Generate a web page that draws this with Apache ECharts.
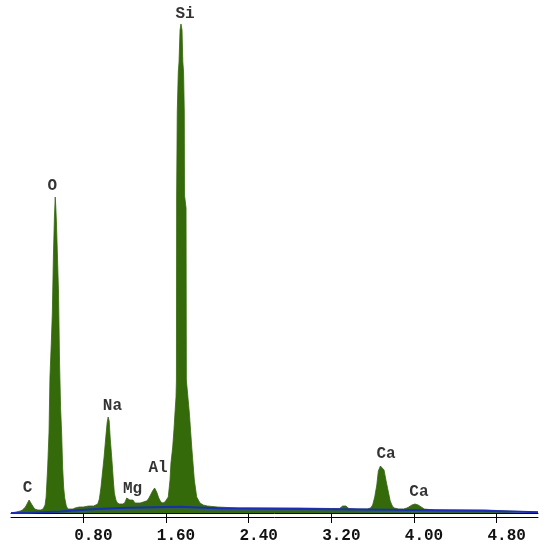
<!DOCTYPE html>
<html>
<head>
<meta charset="utf-8">
<script src="https://cdn.jsdelivr.net/npm/echarts@6/dist/echarts.min.js"></script>
<style>html,body{margin:0;padding:0;background:#fff}#c{width:550px;height:550px}</style>
</head>
<body>
<div id="c"></div>
<script>
// Spectrum: energy (keV) and counts
var energies = [0.10,0.15,0.19,0.21,0.24,0.26,0.275,0.29,0.31,0.33,0.36,0.39,0.41,0.43,0.44,0.455,0.468,0.477,0.49,0.50,0.51,0.52,0.528,0.534,0.54,0.55,0.56,0.57,0.58,0.59,0.60,0.61,0.62,0.635,0.65,0.70,0.72,0.76,0.80,0.85,0.90,0.94,0.955,0.97,0.985,1.00,1.015,1.03,1.04,1.05,1.06,1.07,1.08,1.09,1.10,1.115,1.13,1.15,1.18,1.20,1.21,1.22,1.235,1.25,1.265,1.28,1.30,1.32,1.35,1.38,1.41,1.43,1.45,1.47,1.49,1.50,1.51,1.53,1.55,1.57,1.59,1.60,1.622,1.639,1.648,1.665,1.677,1.687,1.697,1.701,1.703,1.709,1.719,1.726,1.736,1.745,1.755,1.763,1.770,1.777,1.779,1.794,1.797,1.800,1.826,1.849,1.874,1.897,1.929,1.96,2.0,2.1,2.3,2.6,2.9,3.2,3.28,3.31,3.34,3.37,3.45,3.55,3.58,3.60,3.62,3.64,3.655,3.675,3.69,3.71,3.73,3.75,3.77,3.79,3.81,3.85,3.90,3.93,3.95,3.98,4.01,4.04,4.07,4.10,4.2,4.5,4.7,4.9,5.2];
var counts = [0,4,8,12,24,40,52,48,28,16,12,12,16,32,64,184,324,544,680,800,1020,1180,1264,1220,1160,1020,880,600,420,320,180,100,60,28,16,16,20,24,24,28,28,36,56,100,160,220,292,360,384,368,300,248,192,132,80,52,40,36,36,40,48,60,52,52,60,52,40,40,40,44,48,56,72,88,100,96,84,60,44,40,44,48,64,132,200,264,332,400,464,532,1272,1604,1764,1804,1932,1956,1932,1804,1764,1604,1272,1220,532,532,400,264,132,64,40,32,28,24,20,20,20,18,18,28,28,18,16,16,20,32,64,112,168,188,192,172,128,88,48,28,20,16,16,20,24,32,36,32,24,16,12,12,12,8,4];

// Background (continuum fit) steps
var bgEnergies = [0.10,0.255,0.574,0.70,0.93,1.22,1.735,2.10,3.525,4.66,5.2];
var bgCounts = [0,6,10,16,21,25,19,14,9,3,3];

// Element labels
var labelNames = ['C','O','Na','Mg','Al','Si','Ca','Ca'];
var labelEnergies = [0.26,0.50,1.082,1.276,1.523,1.784,3.729,4.048];
var labelCounts = [100,1308,428,96,182,1996,236,84];

// Tick labels
var tickValues = [0.8,1.6,2.4,3.2,4.0,4.8];

var green = '#346a0a';
var fontFam = '"Liberation Mono", "DejaVu Sans Mono", monospace';

var spec = energies.map(function(e,i){return [e, counts[i]];});
var bg = bgEnergies.map(function(e,i){return [e, bgCounts[i]];});
var lbl = labelEnergies.map(function(e,i){return [e, labelCounts[i], labelNames[i]];});

var chart = echarts.init(document.getElementById('c'), null, {renderer:'canvas'});
chart.setOption({
  animation:false,
  backgroundColor:'#fff',
  grid:{left:11,right:12,top:13,bottom:37,containLabel:false},
  xAxis:[{
    type:'value', min:0.1, max:5.2,
    axisLine:{show:true,onZero:false,lineStyle:{color:'#000',width:1}},
    axisTick:{show:true,inside:false,length:10,customValues:tickValues,lineStyle:{color:'#000',width:1}},
    axisLabel:{show:true,customValues:tickValues,margin:15,color:'#111',fontFamily:fontFam,fontWeight:'bold',fontSize:16,
      padding:[0,0,0,20],
      formatter:function(v){return v.toFixed(2);}},
    splitLine:{show:false}
  },{
    type:'value', min:0.1, max:5.2, position:'bottom', offset:4,
    axisLine:{show:true,onZero:false,lineStyle:{color:'#000',width:1}},
    axisTick:{show:false}, axisLabel:{show:false}, splitLine:{show:false}
  }],
  yAxis:{type:'value',min:0,max:2000,show:false},
  series:[{
    type:'line', data:spec, symbol:'none', silent:true,
    lineStyle:{color:green,width:0.8}, areaStyle:{color:green,opacity:1}, z:2
  },{
    type:'line', data:bg, step:'end', symbol:'none', silent:true,
    lineStyle:{color:'#1428e0',width:2}, z:3
  },{
    type:'scatter', data:lbl, symbolSize:1, itemStyle:{color:'rgba(0,0,0,0)'}, silent:true, z:4,
    label:{show:true,position:'inside',formatter:function(p){return p.data[2];},
      color:'#000',fontFamily:fontFam,fontWeight:'bold',fontSize:16}
  }]
});
</script>
</body>
</html>
